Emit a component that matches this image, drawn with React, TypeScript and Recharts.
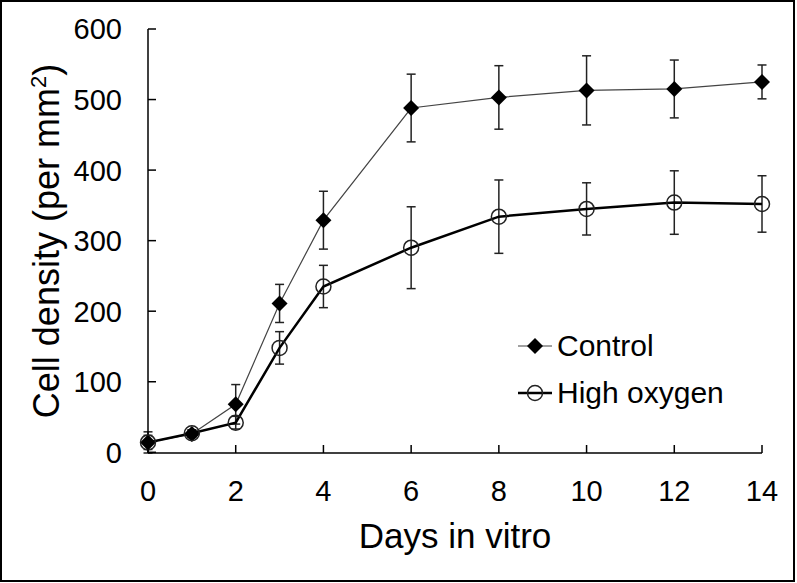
import React from 'react';
import { LineChart, Line, XAxis, YAxis, ErrorBar, Legend, Label } from 'recharts';

// values (cells per mm2, mean and error)
const days = [0, 1, 2, 3, 4, 6, 8, 10, 12, 14];
const controlMean = [14, 26, 68, 211, 329, 488, 503, 513, 515, 525];
const controlErr = [15, 5, 28, 27, 41, 48, 45, 49, 41, 24];
const highOxygenMean = [14, 27, 42, 148, 235, 290, 334, 345, 354, 352];
const highOxygenErr = [10, 5, 9, 23, 30, 58, 52, 37, 45, 40];

const xTicks = [0, 2, 4, 6, 8, 10, 12, 14];
const yTicks = [0, 100, 200, 300, 400, 500, 600];
const seriesNames = ['Control', 'High oxygen'];

const FONT = '"Liberation Sans", Arial, sans-serif';
const X_MARGIN = 27;
const Y_MARGIN = 26;
const TICK_LEN = 8;

const data = days.map((d, i) => ({
    day: d,
    control: controlMean[i],
    controlErr: controlErr[i],
    high: highOxygenMean[i],
    highErr: highOxygenErr[i],
}));

function Diamond(props: any) {
    const { cx, cy } = props;
    if (cx == null || cy == null) return null;
    const r = 8;
    return (
        <polygon
            points={`${cx},${cy - r} ${cx + r},${cy} ${cx},${cy + r} ${cx - r},${cy}`}
            fill="#000"
        />
    );
}

function OpenCircle(props: any) {
    const { cx, cy } = props;
    if (cx == null || cy == null) return null;
    return <circle cx={cx} cy={cy} r={7.5} fill="none" stroke="#222" strokeWidth={1.5} />;
}

// ticks point inward, so the tick line is drawn here along with the label
function XTick(props: any) {
    const { x, y, payload } = props;
    const axisY = y - X_MARGIN;
    return (
        <g>
            <line x1={x} y1={axisY} x2={x} y2={axisY - TICK_LEN} stroke="#000" strokeWidth={1.5} />
            <text x={x} y={y} dy="0.74em" textAnchor="middle" fontSize={29} fill="#000" fontFamily={FONT}>
                {payload.value}
            </text>
        </g>
    );
}

function YTick(props: any) {
    const { x, y, payload } = props;
    const axisX = x + Y_MARGIN;
    return (
        <g>
            <line x1={axisX} y1={y} x2={axisX + TICK_LEN} y2={y} stroke="#000" strokeWidth={1.5} />
            <text x={x} y={y} dy="0.36em" textAnchor="end" fontSize={29} fill="#000" fontFamily={FONT}>
                {payload.value}
            </text>
        </g>
    );
}

function LegendBox() {
    return (
        <div style={{ fontFamily: FONT }}>
            {seriesNames.map((name, i) => (
                <div key={name} style={{ display: 'flex', alignItems: 'center', height: 47 }}>
                    <svg width={38} height={20} style={{ display: 'block' }}>
                        <line x1={2} y1={10} x2={36} y2={10} stroke={i === 0 ? '#444' : '#000'} strokeWidth={i === 0 ? 1.2 : 2.5} />
                        {i === 0 ? <Diamond cx={19} cy={10} /> : <OpenCircle cx={19} cy={10} />}
                    </svg>
                    <span style={{ fontSize: 30, marginLeft: 3, color: '#000' }}>{name}</span>
                </div>
            ))}
        </div>
    );
}

function YTitle(p: any) {
    const vb = p.viewBox;
    const x = vb.x + 59;
    const y = vb.y + vb.height / 2;
    return (
        <text x={x} y={y} transform={`rotate(-90, ${x}, ${y})`} textAnchor="middle" fontSize={36} fill="#000" fontFamily={FONT}>
            Cell density (per mm<tspan dy={-13} fontSize={22}>2</tspan><tspan dy={13}>)</tspan>
        </text>
    );
}

function XTitle(p: any) {
    const vb = p.viewBox;
    return (
        <text x={vb.x + vb.width / 2} y={548} textAnchor="middle" fontSize={35} fill="#000" fontFamily={FONT}>
            Days in vitro
        </text>
    );
}

export default function App() {
    return (
        <div style={{ position: 'absolute', left: 0, top: 0, width: 797, height: 583, background: '#fff', fontFamily: FONT }}>
            <LineChart width={797} height={583} data={data} margin={{ top: 29, right: 35, bottom: 30, left: 0 }}>
                <XAxis
                    dataKey="day"
                    type="number"
                    domain={[0, 14]}
                    ticks={xTicks}
                    height={100}
                    tickSize={0}
                    tickLine={false}
                    tickMargin={X_MARGIN}
                    stroke="#000"
                    strokeWidth={1.5}
                    tick={XTick}
                >
                    <Label content={XTitle} />
                </XAxis>
                <YAxis
                    type="number"
                    domain={[0, 600]}
                    ticks={yTicks}
                    width={148}
                    tickSize={0}
                    tickLine={false}
                    tickMargin={Y_MARGIN}
                    stroke="#000"
                    strokeWidth={1.5}
                    tick={YTick}
                >
                    <Label content={YTitle} />
                </YAxis>
                <Legend
                    layout="vertical"
                    align="center"
                    verticalAlign="middle"
                    content={LegendBox}
                    wrapperStyle={{ left: 516, top: 322, width: 240 }}
                />
                <Line
                    dataKey="control"
                    name="Control"
                    stroke="#444"
                    strokeWidth={1.2}
                    dot={Diamond}
                    activeDot={false}
                    isAnimationActive={false}
                >
                    <ErrorBar dataKey="controlErr" direction="y" width={4.5} stroke="#222" strokeWidth={1.5} />
                </Line>
                <Line
                    dataKey="high"
                    name="High oxygen"
                    stroke="#000"
                    strokeWidth={2.5}
                    dot={OpenCircle}
                    activeDot={false}
                    isAnimationActive={false}
                >
                    <ErrorBar dataKey="highErr" direction="y" width={4.5} stroke="#222" strokeWidth={1.5} />
                </Line>
            </LineChart>
            <div style={{ position: 'absolute', left: 0, top: 0, width: 795, height: 582, border: '2px solid #000', boxSizing: 'border-box', pointerEvents: 'none' }} />
        </div>
    );
}
